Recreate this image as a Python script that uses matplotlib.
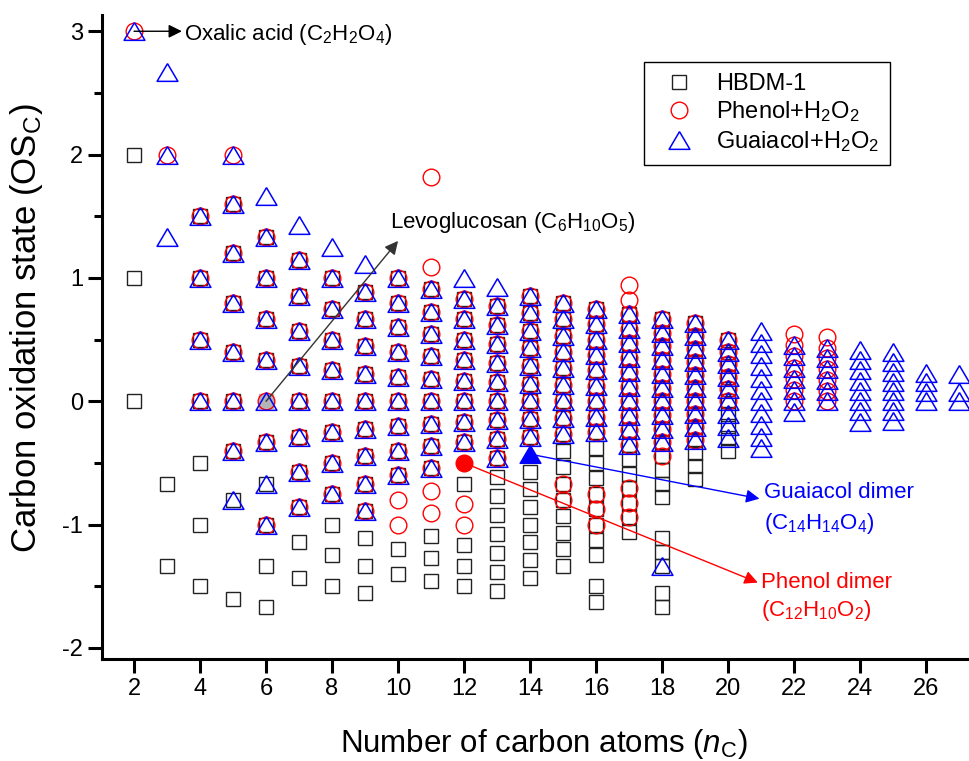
import numpy as np
import matplotlib
matplotlib.use('Agg')
import matplotlib.pyplot as plt

plt.rcParams['font.family'] = ['Liberation Sans', 'DejaVu Sans']
plt.rcParams['mathtext.fontset'] = 'custom'
plt.rcParams['mathtext.rm'] = 'Liberation Sans'
plt.rcParams['mathtext.it'] = 'Liberation Sans:italic'
plt.rcParams['axes.unicode_minus'] = False

# OSc values per number of carbon atoms
hbdm = {
    2: [2.0, 1.0, 0.0],
    3: [-0.667, -1.333],
    4: [1.5, 1.0, 0.5, 0.0, -0.5, -1.0, -1.5],
    5: [1.6, 1.2, 0.8, 0.4, 0.0, -0.4, -0.8, -1.6],
    6: [1.333, 1.0, 0.667, 0.333, -0.333, -0.667, -1.0, -1.333, -1.667],
    7: [1.143, 0.857, 0.571, 0.286, 0.0, -0.286, -0.571, -0.857, -1.143, -1.429],
    8: [1.0, 0.75, 0.5, 0.25, 0.0, -0.25, -0.5, -0.75, -1.0, -1.25, -1.5],
    9: [0.889, 0.667, 0.444, 0.222, 0.0, -0.222, -0.444, -0.667, -0.889, -1.111, -1.333, -1.556],
    10: [1.0, 0.8, 0.6, 0.4, 0.2, 0.0, -0.2, -0.4, -0.6, -1.2, -1.4],
    11: [0.909, 0.727, 0.545, 0.364, 0.182, 0.0, -0.182, -0.364, -0.545, -1.091, -1.273, -1.455],
    12: [0.833, 0.667, 0.5, 0.333, 0.167, 0.0, -0.167, -0.333, -0.667, -1.167, -1.333, -1.5],
    13: [0.769, 0.615, 0.462, 0.308, 0.154, 0.0, -0.154, -0.308, -0.462, -0.615, -0.769,
         -0.923, -1.077, -1.231, -1.385, -1.538],
    14: [0.857, 0.714, 0.571, 0.429, 0.286, 0.143, 0.0, -0.143, -0.286, -0.571, -0.714,
         -0.857, -1.0, -1.143, -1.286, -1.429],
    15: [0.8, 0.667, 0.533, 0.4, 0.267, 0.133, 0.0, -0.133, -0.267, -0.4, -0.533, -0.667,
         -0.8, -0.933, -1.067, -1.2, -1.333],
    16: [0.75, 0.625, 0.5, 0.375, 0.25, 0.125, 0.0, -0.125, -0.25, -0.375, -0.5, -0.625,
         -0.75, -0.875, -1.0, -1.125, -1.25, -1.5, -1.625],
    17: [0.706, 0.588, 0.471, 0.353, 0.235, 0.118, 0.0, -0.118, -0.235, -0.353, -0.471,
         -0.588, -0.706, -0.824, -0.941, -1.059],
    18: [0.667, 0.556, 0.444, 0.333, 0.222, 0.111, 0.0, -0.111, -0.222, -0.333, -0.444,
         -0.556, -0.667, -0.778, -1.111, -1.222, -1.333, -1.556, -1.667],
    19: [0.632, 0.526, 0.421, 0.316, 0.211, 0.105, 0.0, -0.105, -0.211, -0.316, -0.421,
         -0.526, -0.632],
    20: [0.5, 0.4, 0.3, 0.2, 0.1, 0.0, -0.1, -0.2, -0.3, -0.4],
}

phenol = {
    2: [3.0],
    3: [2.0],
    4: [1.5, 1.0, 0.5, 0.0],
    5: [2.0, 1.6, 1.2, 0.8, 0.4, 0.0, -0.4],
    6: [1.333, 1.0, 0.667, 0.333, 0.0, -0.333, -1.0],
    7: [1.143, 0.857, 0.571, 0.286, 0.0, -0.286, -0.571, -0.857],
    8: [1.0, 0.75, 0.5, 0.25, 0.0, -0.25, -0.5, -0.75],
    9: [0.889, 0.667, 0.444, 0.222, 0.0, -0.222, -0.444, -0.667, -0.889],
    10: [1.0, 0.8, 0.6, 0.4, 0.2, 0.0, -0.2, -0.4, -0.6, -0.8, -1.0],
    11: [1.818, 1.091, 0.909, 0.727, 0.545, 0.364, 0.182, 0.0, -0.182, -0.364, -0.545,
         -0.727, -0.909],
    12: [0.833, 0.667, 0.5, 0.333, 0.167, 0.0, -0.167, -0.333, -0.833, -1.0],
    13: [0.769, 0.615, 0.462, 0.308, 0.154, 0.0, -0.154, -0.308, -0.462],
    14: [0.857, 0.714, 0.571, 0.429, 0.286, 0.143, 0.0, -0.143, -0.286],
    15: [0.8, 0.667, 0.533, 0.4, 0.267, 0.133, 0.0, -0.133, -0.267, -0.667, -0.8],
    16: [0.75, 0.625, 0.5, 0.375, 0.25, 0.125, 0.0, -0.125, -0.25, -0.75, -0.875, -1.0],
    17: [0.941, 0.824, 0.706, 0.588, 0.471, 0.353, 0.235, 0.118, 0.0, -0.118, -0.235,
         -0.353, -0.706, -0.824, -0.941],
    18: [0.667, 0.556, 0.444, 0.333, 0.222, 0.111, 0.0, -0.111, -0.222, -0.333, -0.444],
    19: [0.632, 0.526, 0.421, 0.316, 0.211, 0.105, 0.0, -0.105, -0.211, -0.316],
    20: [0.5, 0.4, 0.3, 0.2, 0.1, 0.0],
    22: [0.545, 0.455, 0.364, 0.273, 0.182, 0.091, 0.0],
    23: [0.522, 0.435, 0.348, 0.261, 0.174, 0.087, 0.0],
}

guaiacol = {
    2: [3.0],
    3: [2.667, 2.0, 1.333],
    4: [1.5, 1.0, 0.5, 0.0],
    5: [2.0, 1.6, 1.2, 0.8, 0.4, 0.0, -0.4, -0.8],
    6: [1.667, 1.333, 1.0, 0.667, 0.333, 0.0, -0.333, -0.667, -1.0],
    7: [1.429, 1.143, 0.857, 0.571, 0.286, 0.0, -0.286, -0.571, -0.857],
    8: [1.25, 1.0, 0.75, 0.5, 0.25, 0.0, -0.25, -0.5, -0.75],
    9: [1.111, 0.889, 0.667, 0.444, 0.222, 0.0, -0.222, -0.444, -0.667, -0.889],
    10: [1.0, 0.8, 0.6, 0.4, 0.2, 0.0, -0.2, -0.4, -0.6],
    11: [0.909, 0.727, 0.545, 0.364, 0.182, 0.0, -0.182, -0.364, -0.545],
    12: [1.0, 0.833, 0.667, 0.5, 0.333, 0.167, 0.0, -0.167, -0.333],
    13: [0.923, 0.769, 0.615, 0.462, 0.308, 0.154, 0.0, -0.154, -0.308, -0.462],
    14: [0.857, 0.714, 0.571, 0.429, 0.286, 0.143, 0.0, -0.143, -0.286],
    15: [0.8, 0.667, 0.533, 0.4, 0.267, 0.133, 0.0, -0.133, -0.267],
    16: [0.75, 0.625, 0.5, 0.375, 0.25, 0.125, 0.0, -0.125, -0.25],
    17: [0.706, 0.588, 0.471, 0.353, 0.235, 0.118, 0.0, -0.118, -0.235, -0.353],
    18: [0.667, 0.556, 0.444, 0.333, 0.222, 0.111, 0.0, -0.111, -0.222, -0.333, -1.333],
    19: [0.632, 0.526, 0.421, 0.316, 0.211, 0.105, 0.0, -0.105, -0.211, -0.316],
    20: [0.5, 0.4, 0.3, 0.2, 0.1, 0.0, -0.1, -0.2, -0.3],
    21: [0.571, 0.476, 0.381, 0.286, 0.19, 0.095, 0.0, -0.095, -0.19, -0.286, -0.381],
    22: [0.455, 0.364, 0.273, 0.182, 0.091, 0.0, -0.091],
    23: [0.435, 0.348, 0.261, 0.174, 0.087, 0.0],
    24: [0.417, 0.333, 0.25, 0.167, 0.083, 0.0, -0.083, -0.167],
    25: [0.4, 0.32, 0.24, 0.16, 0.08, 0.0, -0.08, -0.16],
    26: [0.231, 0.154, 0.077, 0.0],
    27: [0.222, 0.074, 0.0],
}

# highlighted compounds (nC, OSc)
levoglucosan = (6, 0.0)
oxalic_acid = (2, 3.0)
phenol_dimer = (12, -0.5)
guaiacol_dimer = (14, -0.429)

x_ticks = [2, 4, 6, 8, 10, 12, 14, 16, 18, 20, 22, 24, 26]
y_ticks = [-2, -1, 0, 1, 2, 3]


def flatten(d):
    xs, ys = [], []
    for nc, vals in d.items():
        xs += [nc] * len(vals)
        ys += vals
    return xs, ys


# wide, closed triangle (like the Origin open-up-triangle)
tri = [(0, 0.85), (-1, -0.85), (1, -0.85), (0, 0.85)]

fig = plt.figure(figsize=(9.69, 7.61), dpi=100)
ax = fig.add_axes([0.1053, 0.134, 0.8947, 0.846])

x, y = flatten(hbdm)
ax.plot(x, y, ls='none', marker='s', ms=10.5, mfc='none', mec='#222222', mew=1.0,
        label='HBDM-1')
ax.plot(*levoglucosan, ls='none', marker='s', ms=10.5, mfc='#b4b4b4', mec='#b4b4b4')
x, y = flatten(phenol)
ax.plot(x, y, ls='none', marker='o', ms=12, mfc='none', mec='red', mew=1.0,
        label='Phenol+H$_2$O$_2$')
x, y = flatten(guaiacol)
ax.plot(x, y, ls='none', marker=tri, ms=15, mfc='none', mec='blue', mew=1.1,
        label='Guaiacol+H$_2$O$_2$')
ax.plot(*phenol_dimer, ls='none', marker='o', ms=12, color='red')
ax.plot(*guaiacol_dimer, ls='none', marker=tri, ms=15, color='blue')

# annotations
arr = dict(arrowstyle='-|>', lw=1, mutation_scale=20, shrinkA=0, shrinkB=0)
fs = 16
ax.annotate('', xy=(3.45, 3.0), xytext=oxalic_acid, arrowprops=dict(arr, color='black'))
ax.text(3.5, 2.97, 'Oxalic acid (C$_2$H$_2$O$_4$)', fontsize=fs, va='center')
ax.annotate('', xy=(10.0, 1.3), xytext=levoglucosan,
            arrowprops=dict(arr, color='#333333'))
ax.text(9.75, 1.45, 'Levoglucosan (C$_6$H$_{10}$O$_5$)', fontsize=fs, va='center')
ax.annotate('', xy=(20.95, -0.79), xytext=guaiacol_dimer,
            arrowprops=dict(arr, color='blue'))
ax.text(21.1, -0.74, 'Guaiacol dimer', fontsize=fs, va='center', color='blue')
ax.text(21.1, -0.99, '(C$_{14}$H$_{14}$O$_4$)', fontsize=fs, va='center', color='blue')
ax.annotate('', xy=(20.9, -1.47), xytext=phenol_dimer,
            arrowprops=dict(arr, color='red'))
ax.text(21.0, -1.47, 'Phenol dimer', fontsize=fs, va='center', color='red')
ax.text(21.0, -1.70, '(C$_{12}$H$_{10}$O$_2$)', fontsize=fs, va='center', color='red')

ax.set_xlim(1.03, 27.3)
ax.set_ylim(-2.09, 3.13)
ax.set_xticks(x_ticks)
ax.set_yticks(y_ticks)
ax.set_yticks([-1.5, -0.5, 0.5, 1.5, 2.5], minor=True)
ax.tick_params(axis='both', which='major', direction='out', length=10, width=2.2,
               labelsize=17)
ax.tick_params(axis='y', which='minor', direction='out', length=6, width=2.2)
for s in ['top', 'right']:
    ax.spines[s].set_visible(False)
for s in ['left', 'bottom']:
    ax.spines[s].set_linewidth(2.2)

ax.set_xlabel('Number of carbon atoms ($n_{\\mathrm{C}}$)', fontsize=22.5)
ax.set_ylabel('Carbon oxidation state (OS$_\\mathrm{C}$)', fontsize=25)
ax.xaxis.set_label_coords(0.509, -0.105)
ax.yaxis.set_label_coords(-0.066, 0.514)

leg = ax.legend(loc='upper right', bbox_to_anchor=(0.909, 0.927), fontsize=17,
                frameon=True, fancybox=False, edgecolor='black', framealpha=1,
                handletextpad=0.6, borderpad=0.45, labelspacing=0.2, borderaxespad=0)
leg.get_frame().set_linewidth(1.0)

fig.savefig('out.png', dpi=100)
